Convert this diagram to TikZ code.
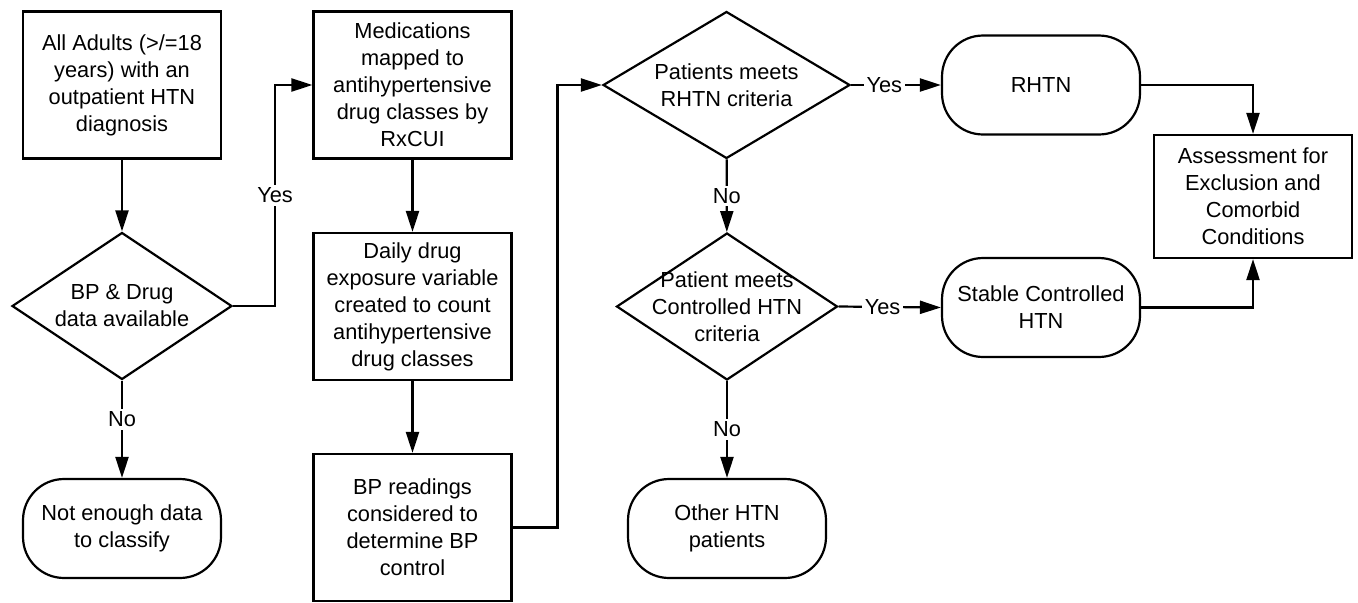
\documentclass[tikz,border=0pt]{standalone}
\usepackage{fontspec}
\setmainfont{Liberation Sans}
\usepackage{tikz}
\usetikzlibrary{shapes.geometric,arrows.meta}

\begin{document}
\begin{tikzpicture}[x=0.02cm,y=-0.02cm,
  every node/.style={font=\fontsize{12.4}{15.4}\selectfont},
  procbox/.style={draw,line width=1.25pt,rectangle,align=center,minimum width=3.96cm,minimum height=2.94cm,inner sep=2pt},
  termbox/.style={draw,line width=1.25pt,rectangle,rounded corners=0.82cm,align=center,minimum width=3.96cm,minimum height=1.98cm},
  decbox/.style={draw,line width=1.25pt,diamond,align=center,inner sep=-12pt,minimum height=2.94cm},
  arr/.style={line width=1.25pt,-{Triangle[length=0.42cm,width=0.26cm]}},
  lbl/.style={fill=white,inner sep=1.5pt}]
\useasboundingbox (0,0) rectangle (1358,602);

% Left column
\node[procbox] (adults) at (122,85) {All Adults (>/=18\\years) with an\\outpatient HTN\\diagnosis};
\node[decbox,minimum width=4.4cm] (data) at (122,306) {BP \& Drug\\data available};
\node[termbox] (noclass) at (122,528.5) {Not enough data\\to classify};

% Middle column
\node[procbox] (meds) at (412.5,85) {Medications\\mapped to\\antihypertensive\\drug classes by\\RxCUI};
\node[procbox] (daily) at (412.5,306.5) {Daily drug\\exposure variable\\created to count\\antihypertensive\\drug classes};
\node[procbox] (bpread) at (412.5,527.5) {BP readings\\considered to\\determine BP\\control};

% Decisions
\node[decbox,minimum width=4.94cm] (rhtncrit) at (726.5,85) {Patients meets\\RHTN criteria};
\node[decbox,minimum width=4.42cm] (ctrlcrit) at (727,306.5) {Patient meets\\Controlled HTN\\criteria};
\node[termbox] (other) at (727,528.5) {Other HTN\\patients};

% Outcomes
\node[termbox] (rhtn) at (1041,85) {RHTN};
\node[termbox] (stable) at (1041,307.5) {Stable Controlled\\HTN};
\node[procbox,minimum height=2.46cm] (assess) at (1253,196.5) {Assessment for\\Exclusion and\\Comorbid\\Conditions};

% Flows
\draw[arr] (adults) -- (data);
\draw[arr] (data) -- node[lbl,pos=0.4] {No} (noclass);
\draw[arr] (data.east) -- ++(42,0) |- node[lbl,pos=0.25] {Yes} (meds.west);
\draw[arr] (meds) -- (daily);
\draw[arr] (daily) -- (bpread);
\draw[arr] (bpread.east) -- ++(45,0) |- (rhtncrit.west);
\draw[arr] (rhtncrit) -- node[lbl] {No} (ctrlcrit);
\draw[arr] (ctrlcrit) -- node[lbl] {No} (other);
\draw[arr] (rhtncrit.east) -- node[lbl,pos=0.37] {Yes} (rhtn.west);
\draw[arr] (ctrlcrit.east) -- node[lbl,pos=0.43] {Yes} (stable.west);
\draw[arr] (rhtn.east) -| (assess.north);
\draw[arr] (stable.east) -| (assess.south);
\end{tikzpicture}
\end{document}
